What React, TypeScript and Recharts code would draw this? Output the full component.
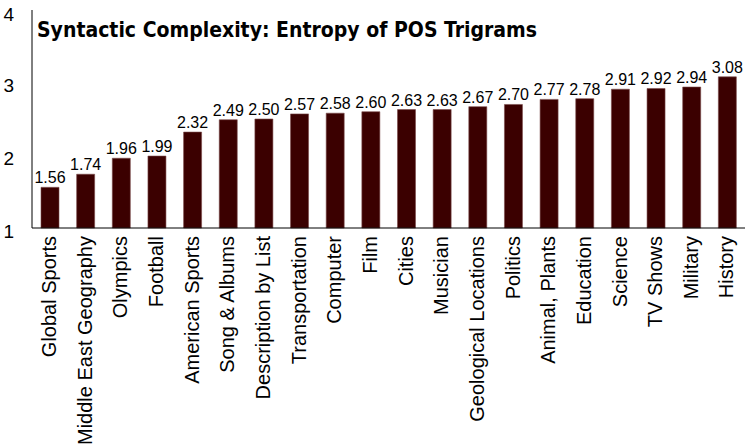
import { BarChart, Bar, XAxis, YAxis, LabelList } from "recharts";

const topics = [
  "Global Sports",
  "Middle East Geography",
  "Olympics",
  "Football",
  "American Sports",
  "Song & Albums",
  "Description by List",
  "Transportation",
  "Computer",
  "Film",
  "Cities",
  "Musician",
  "Geological Locations",
  "Politics",
  "Animal, Plants",
  "Education",
  "Science",
  "TV Shows",
  "Military",
  "History",
];

const entropy = [
  1.56, 1.74, 1.96, 1.99, 2.32, 2.49, 2.5, 2.57, 2.58, 2.6, 2.63, 2.63, 2.67,
  2.7, 2.77, 2.78, 2.91, 2.92, 2.94, 3.08,
];

const yTicks = [1, 2, 3, 4];

const data = topics.map((topic, i) => ({ topic, value: entropy[i] }));

const font = "'Liberation Sans', Arial, sans-serif";

function RotatedTick({ x, y, payload }: any) {
  return (
    <text
      x={x}
      y={y}
      dy={1}
      transform={`rotate(-90, ${x}, ${y})`}
      textAnchor="end"
      dominantBaseline="middle"
      fontSize={20}
      fontFamily={font}
      fill="#000"
    >
      {payload.value}
    </text>
  );
}

export default function App() {
  return (
    <div style={{ position: "absolute", left: 0, top: 0, width: 750, height: 448 }}>
      <BarChart
        width={750}
        height={448}
        data={data}
        margin={{ top: 10, right: 5, left: 8, bottom: 0 }}
      >
        <XAxis
          dataKey="topic"
          interval={0}
          height={220}
          tickLine={false}
          axisLine={{ stroke: "#000" }}
          tick={<RotatedTick />}
        />
        <XAxis xAxisId="top" dataKey="topic" orientation="top" height={0} tick={false} tickLine={false} axisLine={{ stroke: "#000" }} />
        <YAxis
          domain={[1, 4]}
          ticks={yTicks}
          width={24}
          tickLine={false}
          axisLine={{ stroke: "#000" }}
          tickMargin={12}
          dy={3}
          tick={{ fontSize: 19, fill: "#000", fontFamily: font }}
        />
        <YAxis yAxisId="right" orientation="right" domain={[1, 4]} width={0} tick={false} tickLine={false} axisLine={{ stroke: "#000" }} />
        <Bar dataKey="value" barSize={18} fill="#3b0000" stroke="#7a4a4a" strokeWidth={0.6} isAnimationActive={false}>
          <LabelList
            dataKey="value"
            position="top"
            offset={4}
            formatter={(v: any) => Number(v).toFixed(2)}
            style={{ fontSize: 16, fill: "#000", fontFamily: font }}
          />
        </Bar>
      </BarChart>
      <div
        style={{
          position: "absolute",
          left: 37,
          top: 18,
          fontFamily: "'DejaVu Sans Condensed', 'DejaVu Sans', sans-serif",
          fontStretch: "condensed",
          fontWeight: "bold",
          fontSize: 21,
          color: "#000",
          whiteSpace: "nowrap",
        }}
      >
        Syntactic Complexity: Entropy of POS Trigrams
      </div>
    </div>
  );
}
